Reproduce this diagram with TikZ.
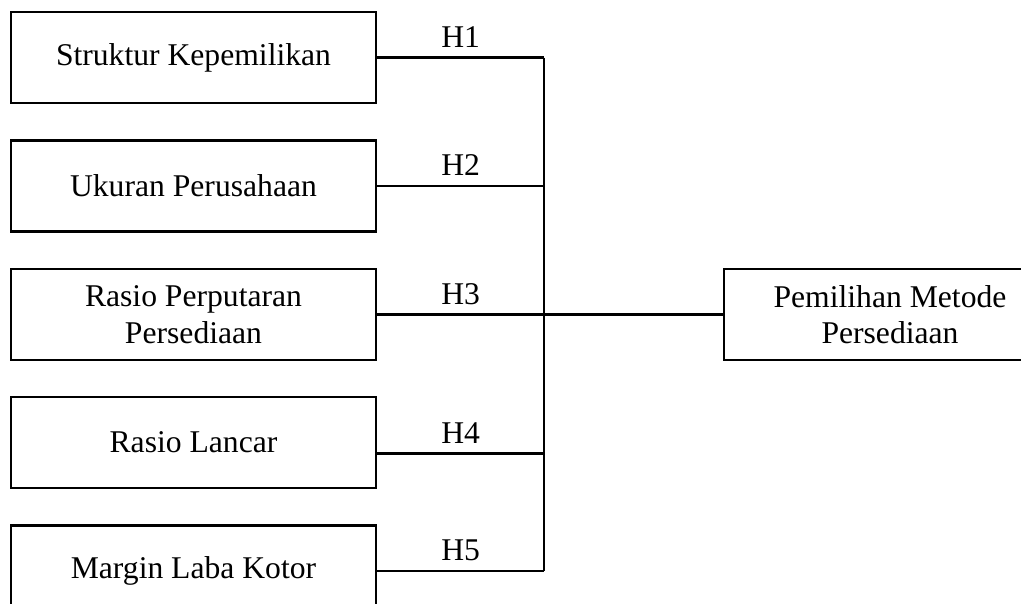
\documentclass[tikz,border=0pt]{standalone}
\usepackage{fontspec}
\setmainfont{Liberation Serif}
\begin{document}
\begin{tikzpicture}[
  varbox/.style={draw, line width=1.4pt, minimum width=7.3cm, minimum height=1.82cm,
    align=center, font=\fontsize{18}{20.8}\selectfont},
  hyp/.style={above, inner sep=5pt, font=\fontsize{18}{20.8}\selectfont}]
  \useasboundingbox (0,0) rectangle (20.42,-12.06);
  \node[varbox] (b1) at (3.87,-1.15) {Struktur Kepemilikan};
  \node[varbox] (b2) at (3.87,-3.72) {Ukuran Perusahaan};
  \node[varbox] (b3) at (3.87,-6.29) {Rasio Perputaran\\Persediaan};
  \node[varbox] (b4) at (3.87,-8.85) {Rasio Lancar};
  \node[varbox] (b5) at (3.87,-11.42) {Margin Laba Kotor};
  \node[varbox, minimum width=6.64cm] (y) at (17.8,-6.29) {Pemilihan Metode\\Persediaan};
  \coordinate (bus) at (10.88,0);
  \coordinate (e4) at ([yshift=-0.22cm]b4.east);
  \foreach \i in {1,2,3,5} {
    \draw[line width=1.4pt] (b\i.east) -- node[hyp] {H\i} (b\i.east -| bus);
  }
  \draw[line width=1.4pt] (e4) -- node[hyp] {H4} (e4 -| bus);
  \draw[line width=1.4pt] (b1.east -| bus) -- (b5.east -| bus);
  \draw[line width=1.4pt] (b3.east -| bus) -- (y.west);
\end{tikzpicture}
\end{document}
